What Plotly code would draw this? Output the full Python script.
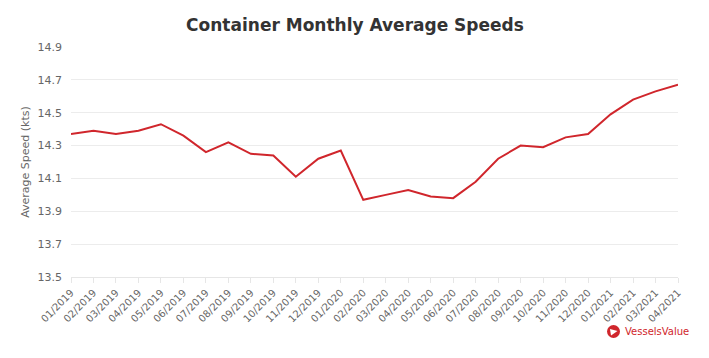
import plotly.graph_objects as go

months = ["01/2019","02/2019","03/2019","04/2019","05/2019","06/2019","07/2019","08/2019",
          "09/2019","10/2019","11/2019","12/2019","01/2020","02/2020","03/2020","04/2020",
          "05/2020","06/2020","07/2020","08/2020","09/2020","10/2020","11/2020","12/2020",
          "01/2021","02/2021","03/2021","04/2021"]
speeds = [14.37,14.39,14.37,14.39,14.43,14.36,14.26,14.32,
          14.25,14.24,14.11,14.22,14.27,13.97,14.00,14.03,
          13.99,13.98,14.08,14.22,14.30,14.29,14.35,14.37,
          14.49,14.58,14.63,14.67]
y_ticks = [13.5,13.7,13.9,14.1,14.3,14.5,14.7,14.9]

fig = go.Figure()
fig.add_trace(go.Scatter(x=list(range(len(months))), y=speeds, mode="lines",
                         line=dict(color="#d0262c", width=2), hoverinfo="y"))

fig.update_layout(
    width=709, height=358,
    margin=dict(l=63, r=39, t=39, b=89, autoexpand=False),
    paper_bgcolor="white", plot_bgcolor="white",
    font=dict(family="DejaVu Sans, Verdana, sans-serif", color="#666666", size=11),
    title=dict(text="<b>Container Monthly Average Speeds</b>", x=(355-8)/709, xanchor="center",
               y=1 - 17/358, yanchor="middle",
               font=dict(size=17, color="#333333", family="DejaVu Sans, Verdana, sans-serif")),
    showlegend=False,
    xaxis=dict(range=[0, len(months)-1], tickmode="array", automargin=False,
               tickvals=list(range(len(months))), ticktext=months,
               tickangle=-45, showgrid=False, zeroline=False,
               showline=True, linecolor="#e6e6e6", linewidth=1,
               ticks="outside", ticklen=5, tickcolor="#e6e6e6",
               tickfont=dict(size=10, color="#666666")),
    yaxis=dict(range=[13.5, 14.9], tickmode="array", tickvals=y_ticks, automargin=False,
               ticktext=[f"{v:.1f}" for v in y_ticks],
               showgrid=True, gridcolor="#ececec", gridwidth=1, zeroline=False,
               showline=False, ticks="", ticklabelstandoff=8,
               tickfont=dict(size=11, color="#666666"),
               title=dict(text="Average Speed (kts)", standoff=5,
                          font=dict(size=11, color="#666666"))),
)

# VesselsValue logo
fig.add_shape(type="circle", xref="paper", yref="paper",
              x0=(607-71)/607, x1=(620-71)/607, y0=-(338-277)/230, y1=-(325-277)/230,
              fillcolor="#d0262c", line=dict(width=0))
fig.add_shape(type="path", xref="paper", yref="paper",
              path=f"M {(610-71)/607},{-(329-277)/230} L {(617.5-71)/607},{-(331-277)/230} L {(611-71)/607},{-(335.5-277)/230} Z",
              fillcolor="white", line=dict(width=0))
fig.add_annotation(text="VesselsValue", xref="paper", yref="paper",
                   x=(623-71)/607, y=-(331.5-277)/230, xanchor="left", yanchor="middle",
                   showarrow=False,
                   font=dict(size=10, color="#d0262c", family="DejaVu Sans, sans-serif"))

fig.write_html("out.html")
